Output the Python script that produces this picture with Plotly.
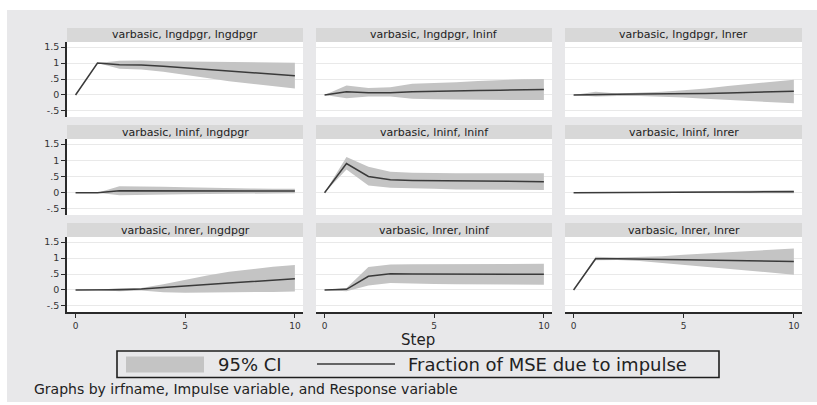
import plotly.graph_objects as go

W, H = 817, 405

# ---------------- data ----------------
steps = [0, 1, 2, 3, 4, 5, 6, 7, 8, 9, 10]
ytick_vals = [-0.5, 0, 0.5, 1, 1.5]
ytick_text = ["-.5", "0", ".5", "1", "1.5"]
xtick_vals = [0, 5, 10]
xtick_text = ["0", "5", "10"]

titles = [
    "varbasic, lngdpgr, lngdpgr", "varbasic, lngdpgr, lninf", "varbasic, lngdpgr, lnrer",
    "varbasic, lninf, lngdpgr", "varbasic, lninf, lninf", "varbasic, lninf, lnrer",
    "varbasic, lnrer, lngdpgr", "varbasic, lnrer, lninf", "varbasic, lnrer, lnrer",
]

# lngdpgr -> lngdpgr
fmse_gdp_gdp = [0, 1.00, 0.95, 0.94, 0.90, 0.85, 0.80, 0.75, 0.70, 0.66, 0.60]
hi_gdp_gdp = [0, 1.00, 1.07, 1.08, 1.06, 1.05, 1.04, 1.03, 1.02, 1.02, 1.01]
lo_gdp_gdp = [0, 1.00, 0.82, 0.80, 0.73, 0.64, 0.53, 0.43, 0.34, 0.27, 0.20]
# lngdpgr -> lninf
fmse_gdp_inf = [0, 0.10, 0.07, 0.07, 0.10, 0.12, 0.13, 0.14, 0.15, 0.16, 0.17]
hi_gdp_inf = [0, 0.30, 0.22, 0.24, 0.35, 0.37, 0.40, 0.44, 0.47, 0.49, 0.50]
lo_gdp_inf = [0, -0.10, -0.05, -0.05, -0.12, -0.13, -0.14, -0.15, -0.16, -0.16, -0.16]
# lngdpgr -> lnrer
fmse_gdp_rer = [0, 0.02, 0.02, 0.03, 0.03, 0.04, 0.05, 0.06, 0.08, 0.10, 0.12]
hi_gdp_rer = [0, 0.10, 0.05, 0.07, 0.10, 0.15, 0.20, 0.28, 0.35, 0.42, 0.48]
lo_gdp_rer = [0, -0.05, -0.03, -0.03, -0.05, -0.08, -0.12, -0.16, -0.20, -0.23, -0.26]
# lninf -> lngdpgr
fmse_inf_gdp = [0, 0, 0.06, 0.06, 0.06, 0.05, 0.05, 0.05, 0.05, 0.05, 0.05]
hi_inf_gdp = [0, 0, 0.20, 0.20, 0.18, 0.17, 0.15, 0.14, 0.13, 0.12, 0.12]
lo_inf_gdp = [0, 0, -0.08, -0.07, -0.06, -0.05, -0.04, -0.03, -0.03, -0.02, -0.02]
# lninf -> lninf
fmse_inf_inf = [0, 0.90, 0.50, 0.40, 0.38, 0.37, 0.36, 0.35, 0.34, 0.34, 0.34]
hi_inf_inf = [0, 1.10, 0.80, 0.65, 0.62, 0.60, 0.60, 0.60, 0.60, 0.60, 0.60]
lo_inf_inf = [0, 0.72, 0.22, 0.15, 0.13, 0.12, 0.10, 0.10, 0.09, 0.08, 0.08]
# lninf -> lnrer
fmse_inf_rer = [0, 0, 0, 0.005, 0.01, 0.015, 0.02, 0.02, 0.025, 0.03, 0.03]
hi_inf_rer = [0, 0, 0, 0.01, 0.03, 0.04, 0.05, 0.06, 0.07, 0.08, 0.08]
lo_inf_rer = [0, 0, 0, -0.005, -0.01, -0.015, -0.02, -0.02, -0.02, -0.02, -0.02]
# lnrer -> lngdpgr
fmse_rer_gdp = [0, 0, 0.01, 0.03, 0.07, 0.12, 0.17, 0.22, 0.27, 0.31, 0.35]
hi_rer_gdp = [0, 0, 0.06, 0.06, 0.18, 0.32, 0.45, 0.57, 0.66, 0.73, 0.78]
lo_rer_gdp = [0, 0, -0.04, -0.02, -0.07, -0.09, -0.09, -0.08, -0.07, -0.06, -0.05]
# lnrer -> lninf
fmse_rer_inf = [0, 0.02, 0.43, 0.51, 0.50, 0.50, 0.50, 0.50, 0.49, 0.49, 0.49]
hi_rer_inf = [0, 0.06, 0.72, 0.80, 0.81, 0.81, 0.82, 0.82, 0.82, 0.82, 0.82]
lo_rer_inf = [0, -0.04, 0.14, 0.22, 0.20, 0.19, 0.18, 0.17, 0.17, 0.16, 0.16]
# lnrer -> lnrer
fmse_rer_rer = [0, 0.98, 0.98, 0.97, 0.96, 0.95, 0.94, 0.93, 0.92, 0.90, 0.89]
hi_rer_rer = [0, 1.04, 1.02, 1.03, 1.06, 1.10, 1.14, 1.18, 1.22, 1.26, 1.30]
lo_rer_rer = [0, 0.93, 0.94, 0.91, 0.86, 0.80, 0.73, 0.66, 0.60, 0.54, 0.48]

panels = [
    (fmse_gdp_gdp, lo_gdp_gdp, hi_gdp_gdp), (fmse_gdp_inf, lo_gdp_inf, hi_gdp_inf), (fmse_gdp_rer, lo_gdp_rer, hi_gdp_rer),
    (fmse_inf_gdp, lo_inf_gdp, hi_inf_gdp), (fmse_inf_inf, lo_inf_inf, hi_inf_inf), (fmse_inf_rer, lo_inf_rer, hi_inf_rer),
    (fmse_rer_gdp, lo_rer_gdp, hi_rer_gdp), (fmse_rer_inf, lo_rer_inf, hi_rer_inf), (fmse_rer_rer, lo_rer_rer, hi_rer_rer),
]

legend_ci = "95% CI"
legend_line = "Fraction of MSE due to impulse"
x_title = "Step"
note = "Graphs by irfname, Impulse variable, and Response variable"

# ---------------- styling / layout ----------------
FONT = "DejaVu Sans"
BG = "#e8e8ea"
STRIP = "#d8d8d8"
BAND = "#c4c4c4"
LINE = "#3a3a3a"
AXIS = "#2a2a2a"
GRID = "#e9e9e9"

# positions measured in window pixels
col_px = [(67, 303), (316, 552), (565, 802)]
row_px = [(42, 117), (139, 215), (237, 312)]
strip_h = 14


def px(x):
    return x / W


def py(y):
    return 1 - y / H


fig = go.Figure()
layout = dict(
    width=W, height=H,
    margin=dict(l=0, r=0, t=0, b=0),
    paper_bgcolor=BG, plot_bgcolor="white",
    showlegend=False,
    font=dict(family=FONT, color="#333333"),
)
shapes = []
annotations = []

# white outer margins (top / left / bottom)
shapes.append(dict(type="rect", xref="paper", yref="paper", x0=0, x1=1, y0=py(10), y1=1,
                   fillcolor="white", line=dict(width=0), layer="below"))
shapes.append(dict(type="rect", xref="paper", yref="paper", x0=0, x1=px(7), y0=0, y1=1,
                   fillcolor="white", line=dict(width=0), layer="below"))
shapes.append(dict(type="rect", xref="paper", yref="paper", x0=0, x1=1, y0=0, y1=py(402),
                   fillcolor="white", line=dict(width=0), layer="below"))

for i, (title, (fm, lo, hi)) in enumerate(zip(titles, panels)):
    r, c = divmod(i, 3)
    k = i + 1
    xa = "x" if k == 1 else f"x{k}"
    ya = "y" if k == 1 else f"y{k}"
    xkey = "xaxis" if k == 1 else f"xaxis{k}"
    ykey = "yaxis" if k == 1 else f"yaxis{k}"
    (x0, x1), (y0, y1) = col_px[c], row_px[r]

    fig.add_trace(go.Scatter(
        x=steps + steps[::-1], y=hi + lo[::-1], mode="lines", fill="toself",
        fillcolor=BAND, line=dict(width=0, color=BAND), hoverinfo="skip",
        xaxis=xa, yaxis=ya))
    fig.add_trace(go.Scatter(
        x=steps, y=fm, mode="lines", line=dict(color=LINE, width=1.5),
        xaxis=xa, yaxis=ya))

    bottom = r == 2
    left = c == 0
    layout[xkey] = dict(
        domain=[px(x0), px(x1)], range=[-0.39, 10.37], anchor=ya,
        showgrid=False, zeroline=False, fixedrange=True,
        tickvals=xtick_vals, ticktext=xtick_text,
        showticklabels=bottom, ticks="outside" if bottom else "",
        ticklen=4, tickwidth=1.2, tickcolor=AXIS,
        showline=bottom, linecolor=AXIS, linewidth=1.6,
        tickfont=dict(family=FONT, size=9, color="#333333"),
    )
    layout[ykey] = dict(
        domain=[py(y1), py(y0)], range=[-0.69, 1.66], anchor=xa,
        showgrid=True, gridcolor=GRID, gridwidth=1, zeroline=False, fixedrange=True,
        tickvals=ytick_vals, ticktext=ytick_text,
        showticklabels=left, ticks="outside" if left else "",
        ticklen=4, tickwidth=1.2, tickcolor=AXIS,
        showline=left, linecolor=AXIS, linewidth=1.6,
        tickfont=dict(family=FONT, size=9.5, color="#333333"),
    )

    # title strip
    shapes.append(dict(type="rect", xref="paper", yref="paper",
                       x0=px(x0), x1=px(x1), y0=py(y0), y1=py(y0 - strip_h),
                       fillcolor=STRIP, line=dict(width=0), layer="below"))
    annotations.append(dict(text=title, xref="paper", yref="paper",
                            x=px((x0 + x1) / 2), y=py(y0 - strip_h / 2),
                            xanchor="center", yanchor="middle", showarrow=False,
                            font=dict(family=FONT, size=11, color="#222222")))

# x title
annotations.append(dict(text=x_title, xref="paper", yref="paper", x=px(418), y=py(340),
                        xanchor="center", yanchor="middle", showarrow=False,
                        font=dict(family=FONT, size=15, color="#222222")))

# legend box
shapes.append(dict(type="rect", xref="paper", yref="paper", x0=px(117), x1=px(719),
                   y0=py(377.5), y1=py(351), fillcolor="rgba(0,0,0,0)",
                   line=dict(color="#1e1e1e", width=1.6), layer="above"))
shapes.append(dict(type="rect", xref="paper", yref="paper", x0=px(126), x1=px(204),
                   y0=py(372.5), y1=py(356.5), fillcolor=BAND, line=dict(width=0), layer="above"))
shapes.append(dict(type="line", xref="paper", yref="paper", x0=px(317), x1=px(395),
                   y0=py(364), y1=py(364), line=dict(color=LINE, width=1.5), layer="above"))
annotations.append(dict(text=legend_ci, xref="paper", yref="paper", x=px(216), y=py(364.5),
                        xanchor="left", yanchor="middle", showarrow=False,
                        font=dict(family=FONT, size=18, color="#222222")))
annotations.append(dict(text=legend_line, xref="paper", yref="paper", x=px(406), y=py(364.5),
                        xanchor="left", yanchor="middle", showarrow=False,
                        font=dict(family=FONT, size=18, color="#222222")))

# note
annotations.append(dict(text=note, xref="paper", yref="paper", x=px(32), y=py(389),
                        xanchor="left", yanchor="middle", showarrow=False,
                        font=dict(family=FONT, size=14, color="#222222")))

layout["shapes"] = shapes
layout["annotations"] = annotations
fig.update_layout(**layout)

# remove the default page margin so the figure fills the 817x405 window exactly
fig.write_html(
    "out.html",
    config={"displayModeBar": False},
    post_script="document.body.style.margin='0';document.body.style.overflow='hidden';",
)
